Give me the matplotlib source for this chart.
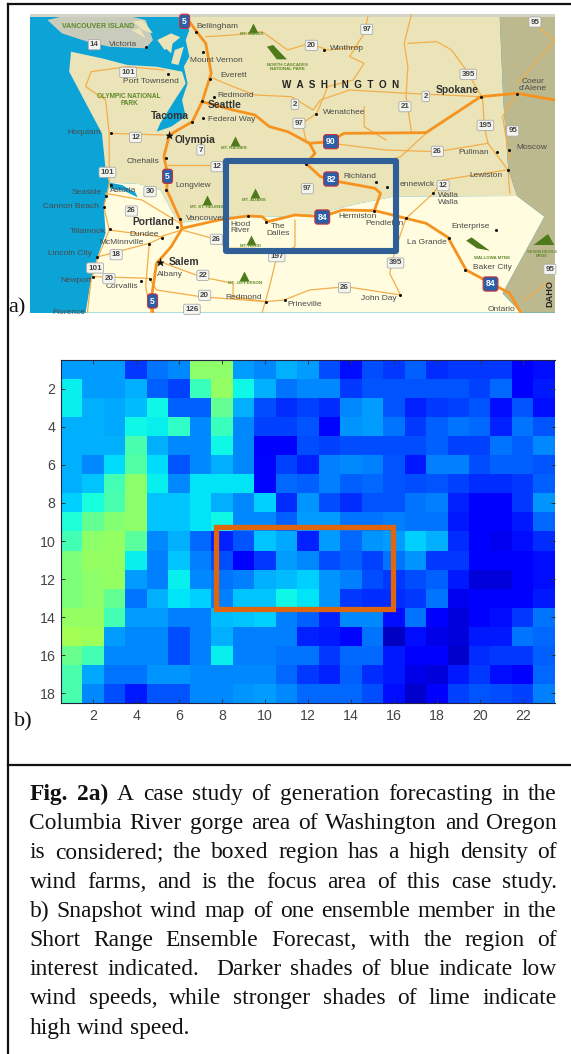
import numpy as np
import matplotlib
matplotlib.use("Agg")
import matplotlib.pyplot as plt
from matplotlib.lines import Line2D
from matplotlib.patches import Polygon, Rectangle

W, H = 571, 1054
plt.rcParams['font.family'] = ['Liberation Sans', 'DejaVu Sans']

# ---------- heat-map values (rows 1-18, columns 1-23) ----------
wind = np.array([
 [28,28,28,18,24,26,52,52,28,26,30,28,20,14,20,18,22,17,18,18,18,11,14],
 [36,28,28,30,22,19,42,53,37,30,24,26,26,18,21,21,21,21,21,19,23,11,15],
 [36,30,29,31,37,22,22,47,30,20,17,19,17,26,28,21,16,18,19,21,14,21,14],
 [30,30,29,37,36,41,26,42,26,19,19,21,13,27,28,24,18,22,24,23,16,24,21],
 [30,30,30,44,30,26,26,37,26,11,12,20,19,20,20,20,20,22,19,19,24,22,26],
 [30,26,34,45,34,21,26,30,26,13,19,16,25,26,25,21,15,25,25,20,22,22,21],
 [30,32,43,52,36,26,35,35,35,13,23,22,25,22,23,21,20,21,19,17,17,18,22],
 [33,38,44,52,32,32,35,30,26,33,17,27,20,17,21,21,24,25,16,11,11,18,27],
 [39,47,51,52,32,32,35,37,26,26,22,28,28,24,24,25,24,24,15,11,11,15,23],
 [43,52,53,46,26,30,23,16,21,32,29,16,28,23,27,28,33,30,17,12,10,14,17],
 [50,53,53,36,25,32,25,20,12,18,28,26,20,22,19,24,27,18,18,12,12,12,14],
 [50,52,53,28,25,36,26,24,25,30,31,33,27,25,20,18,20,22,15, 8, 8,12,14],
 [50,52,47,24,30,35,33,25,32,32,37,35,27,18,17,17,18,24,10,11,11,11,15],
 [53,53,43,28,28,25,25,31,32,33,25,22,16,26,26,14,24,12, 8,12,14,18,24],
 [55,54,28,26,26,20,25,30,25,25,25,16,15,13,24, 6,14, 9, 8,15,15,24,23],
 [48,43,26,26,26,20,25,36,25,25,24,24,18,23,23,15,12,11, 7,17,18,18,22],
 [44,29,24,24,27,27,26,26,26,26,23,18,16,22,17,15, 9, 8,15,18,14,11,23],
 [44,26,20,15,21,21,26,26,27,28,26,23,23,23,20,14, 7,11,19,21,20,19,25],
])
x_ticks = [2,4,6,8,10,12,14,16,18,20,22]
y_ticks = [2,4,6,8,10,12,14,16,18]
focus_cols = (7.7, 15.97)
focus_rows = (9.25, 13.58)

# ---------- map content (coordinates on a 1568 x 3162 sketch grid) ----------
ocean_c, wa_c, or_c, id_c, bc_c = '#0CA3D6', '#EAE4B8', '#FFFCE0', '#BDB98F', '#C9CBBB'
road_c, thin_c = '#F6921E', '#F3AE4A'

washington = [(505,42),(1372,42),(1382,300),(1396,510),(1420,588),(1080,590),(980,612),(880,640),(790,650),
              (620,650),(500,668),(480,650),(440,570),(380,552),(300,548),(290,510),(280,400),(236,310),
              (190,215),(195,155),(280,175),(350,195),(430,200),(500,215),(510,250),(480,300),(440,370),(430,395),
              (470,380),(510,350),(500,300),(515,250),(505,200),(520,170),(510,120),(520,90),(490,50)]
oregon = [(300,548),(380,552),(440,570),(480,650),(500,668),(620,650),(790,650),(880,640),(980,612),(1080,590),
          (1420,588),(1495,650),(1440,760),(1380,880),(1430,938),(235,938),(250,840),(265,780),(290,700),(285,620)]
idaho = [(1372,42),(1524,42),(1524,938),(1430,938),(1380,880),(1440,760),(1495,650),(1420,588),(1396,510),(1382,300)]
van_island = [(130,60),(200,42),(330,42),(400,60),(420,120),(400,145),(300,140),(240,125),(170,100)]
islands = [[(432,120),(470,100),(495,112),(452,150)],[(365,65),(392,60),(420,100),(395,92)],
           [(480,150),(505,140),(490,195),(470,190)],[(440,130),(475,120),(470,160)],[(360,90),(385,85),(400,115)]]
columbia_mouth = [(300,548),(335,555),(372,578),(378,592),(340,572),(302,566)]

interstates = [
 [(510,50),(540,95),(565,130),(580,220),(555,305),(528,365),(465,405),(450,470),(460,520),(458,570),(495,660),(500,685),(470,740),(430,790),(415,900),(420,938)],
 [(555,305),(640,330),(700,345),(740,380),(790,395),(850,430),(905,425),(945,400),(1170,398),(1320,290),(1420,280),(1524,300)],
 [(850,430),(865,460),(840,490),(880,530),(930,545),(1030,565),(1045,580),(1028,632)],
 [(500,685),(600,660),(680,648),(720,650),(735,665),(810,645),(885,650),(940,630),(1030,632),(1115,655),(1170,670),(1230,712),(1280,810),(1340,845),(1400,880),(1430,938)],
]
minor_roads = [
 [(575,230),(640,260),(700,285),(800,290),(860,330),(880,300),(960,270),(1120,280),(1320,290)],
 [(565,110),(640,105),(720,95),(790,150),(850,130),(900,150),(990,140)],
 [(1010,50),(1000,100),(960,170),(1000,190),(970,240),(900,260),(870,340),(830,370),(840,420)],
 [(1130,42),(1110,130),(1120,200),(1115,290),(1130,395)],
 [(1120,130),(1200,125),(1240,150),(1280,210),(1320,285)],
 [(1325,290),(1330,380),(1340,430),(1395,510),(1400,580)],
 [(910,430),(1060,450),(1200,455),(1340,430)],
 [(1170,400),(1100,470),(1070,480)],
 [(450,210),(350,200),(250,215),(235,260),(290,300),(300,400),(450,405)],
 [(300,400),(300,510),(300,555),(285,620),(300,690),(270,770),(250,840),(240,938)],
 [(460,495),(590,495),(620,495)],
 [(290,580),(390,600),(495,670)],
 [(300,690),(440,710),(500,690)],
 [(270,770),(410,730),(450,710)],
 [(440,785),(550,830),(640,850),(640,890),(730,905),(780,900),(850,870),(950,860),(1100,885),(1070,820),(1085,750),(1115,655)],
 [(260,830),(410,835),(430,870),(550,890),(730,905)],
 [(810,660),(810,740),(760,770),(740,860),(720,938)],
 [(1115,655),(1190,580),(1215,540),(1390,510)],
 [(1000,320),(1000,380),(1060,420)],
 [(1420,280),(1380,350),(1400,480)],
 [(1450,60),(1524,120),(1420,250)],
 [(1440,900),(1500,850)],
 [(500,690),(600,720),(620,745),(700,745)],
 [(410,730),(400,860),(415,938)],
]
regular_labels = [('Bellingham',540,80),('Victoria',298,134),('Mount Vernon',522,180),('Winthrop',907,146),
 ('Everett',606,227),('Port Townsend',339,244),('Redmond',598,286),('Federal Way',571,358),('Wenatchee',888,339),
 ('Hoquiam',186,399),('Chehalis',348,484),('Longview',482,556),('Pullman',1259,458),('Moscow',1417,442),
 ('Lewiston',1288,526),('Richland',942,528),('ennewick',1098,554),('Walla',1204,587),('Walla',1204,608),
 ('Seaside',198,578),('Astoria',303,573),('Cannon Beach',118,620),('Vancouver',510,655),('Tillamook',192,694),
 ('Dundee',356,703),('McMinnville',274,726),('Lincoln City',132,760),('Newport',165,840),('Albany',430,825),
 ('Corvallis',290,860),('Hermiston',930,649),('Pendleton',1003,671),('Hood',632,672),('River',632,693),
 ('The',745,679),('Dalles',732,700),('La Grande',1119,727),('Enterprise',1240,680),('Baker City',1298,803),
 ('Redmond',620,893),('Prineville',790,914),('John Day',990,897),('Ontario',1340,929),('Florence',145,938),
 ('Coeur',1432,244),("d'Alene",1424,265)]
big_labels = [('Seattle',571,316),('Tacoma',413,349),('Olympia',480,420),('Spokane',1197,270),('Portland',364,667),('Salem',464,786)]
green_labels = [('VANCOUVER ISLAND',171,78,5.0),('OLYMPIC NATIONAL',266,291,4.7),('PARK',330,310,4.7),
 ('MT. BAKER',660,101,3.2),('NORTH CASCADES',733,194,3.2),('NATIONAL PARK',741,207,3.2),('MT. RAINIER',607,445,3.2),
 ('MT. ADAMS',664,601,3.2),('MT. ST. HELENS',522,622,3.2),('MT. HOOD',659,737,3.2),('MT. JEFFERSON',625,848,3.2),
 ('WALLOWA MTNS',1303,774,3.2),('SEVEN DEVILS',1447,756,3.0),('MTNS',1472,769,3.0)]
peaks = [(695,84),(646,424),(699,579),(568,600),(690,720),(670,829)]
ranges = [[(733,140),(750,135),(788,178),(760,178)],[(1280,722),(1295,712),(1345,752),(1310,745)],[(1465,735),(1505,702),(1522,735)]]
cities = [(539,95),(558,157),(578,237),(587,292),(555,304),(558,355),(528,365),(400,141),(462,221),(891,150),(869,341),
 (304,399),(455,474),(456,570),(304,556),(292,587),(285,621),(495,657),(485,680),(301,686),(445,713),(408,733),(267,770),
 (256,830),(388,844),(413,838),(1322,290),(1420,283),(1365,455),(1398,451),(1394,511),(1190,580),(1033,545),(1063,561),
 (1028,634),(682,649),(731,665),(1116,655),(1232,713),(1277,811),(1361,691),(1098,884),(782,901),(730,907),(840,491)]
stars = [(465,405),(440,785)]
us_shields = [('14',259,134),('101',352,217),('20',855,136),('97',1007,88),('395',1286,223),('2',810,313),('21',1112,320),
 ('97',821,370),('2',1169,289),('195',1333,376),('95',1408,393),('26',1201,454),('12',372,412),('7',551,450),('12',596,500),
 ('101',295,517),('30',412,575),('97',844,566),('12',1217,557),('26',361,633),('26',594,718),('18',319,764),('197',760,770),
 ('395',1086,789),('101',261,804),('20',299,836),('22',557,826),('20',562,886),('26',946,863),('126',527,928),('95',1469,66),('95',1510,808)]
i_shields = [('5',507,64),('90',909,425),('82',909,537),('5',460,529),('84',885,651),('84',1347,852),('5',419,903)]
state_label = 'WASHINGTON'
focus_map_x = (620, 1087)
focus_map_y = (483, 752)

caption = ["Fig. 2a) A case study of generation forecasting in the",
           "Columbia River gorge area of Washington and Oregon",
           "is considered; the boxed region has a high density of",
           "wind farms, and is the focus area of this case study.",
           "b) Snapshot wind map of one ensemble member in the",
           "Short Range Ensemble Forecast, with the region of",
           "interest indicated.  Darker shades of blue indicate low",
           "wind speeds, while stronger shades of lime indicate",
           "high wind speed."]

# ---------- figure ----------
fig = plt.figure(figsize=(W/100, H/100), dpi=100, facecolor='white')

m = fig.add_axes([0, 0, 1, 1])
m.set_xlim(0, 1568); m.set_ylim(3162, 0); m.axis('off')
clip = Rectangle((82, 42), 1442, 896, transform=m.transData)

def cl(a):
    a.set_clip_path(clip)
    return a

cl(m.add_patch(Rectangle((82, 42), 1442, 896, fc=ocean_c, ec='none', zorder=1)))
for poly, c in ((van_island, bc_c), (washington, wa_c), (oregon, or_c), (idaho, id_c)):
    cl(m.add_patch(Polygon(poly, closed=True, fc=c, ec='none', zorder=2)))
for poly in islands:
    cl(m.add_patch(Polygon(poly, closed=True, fc=wa_c, ec='none', zorder=2)))
cl(m.add_patch(Polygon(columbia_mouth, closed=True, fc=ocean_c, ec='none', zorder=2)))
cl(m.add_patch(Rectangle((82, 42), 1442, 8, fc='#D4D4C6', ec='none', zorder=2)))
for r in minor_roads:
    xs, ys = zip(*r)
    cl(m.plot(xs, ys, color=thin_c, lw=0.9, zorder=3)[0])
for r in interstates:
    xs, ys = zip(*r)
    cl(m.plot(xs, ys, color=road_c, lw=2.0, zorder=4, solid_joinstyle='round')[0])
xs, ys = zip(*cities)
cl(m.plot(xs, ys, ls='none', marker='o', ms=2.2, color='#111111', mec='none', zorder=5)[0])
xs, ys = zip(*stars)
cl(m.plot(xs, ys, ls='none', marker='*', ms=6.5, color='#111111', mec='none', zorder=5)[0])
xs, ys = zip(*peaks)
cl(m.plot(xs, ys, ls='none', marker='^', ms=7, color='#4F7A1C', mec='none', zorder=5)[0])
for poly in ranges:
    cl(m.add_patch(Polygon(poly, closed=True, fc='#4F7A1C', ec='none', zorder=5)))
for t, x, y in regular_labels:
    cl(m.text(x, y, t, fontsize=6.0, color='#4A4A48', va='center', ha='left', zorder=6))
for t, x, y in big_labels:
    cl(m.text(x, y, t, fontsize=7.4, color='#333333', va='center', ha='left', weight='bold', zorder=6))
for t, x, y, s in green_labels:
    cl(m.text(x, y, t, fontsize=s, color='#5F8A2A', va='center', ha='left', weight='bold', zorder=6))
for t, x, y in us_shields:
    cl(m.text(x, y, t, fontsize=5.8, color='#444444', va='center', ha='center', weight='bold', zorder=7,
              bbox=dict(boxstyle='round,pad=0.2', fc='#F5F5F0', ec='#AAAAAA', lw=0.6)))
for t, x, y in i_shields:
    cl(m.text(x, y, t, fontsize=6.2, color='white', va='center', ha='center', weight='bold', zorder=7,
              bbox=dict(boxstyle='round,pad=0.3', fc='#2A5FA8', ec='#C8303A', lw=0.8)))
cl(m.text(775, 255, '  '.join(state_label), fontsize=7.1, color='#222222', va='center', ha='left', weight='bold', zorder=6))
cl(m.text(1510, 880, 'DAHO', fontsize=6.6, color='#222222', rotation=90, va='center', ha='center', weight='bold', zorder=6))
m.add_patch(Rectangle((focus_map_x[0], focus_map_y[0]), focus_map_x[1]-focus_map_x[0], focus_map_y[1]-focus_map_y[0],
                      fc='none', ec='#2F5F96', lw=4.4, zorder=8, joinstyle='round'))

# ---------- heat map ----------
L, R, T, B = 61, 555, 360, 703
ax = fig.add_axes([L/W, 1-B/H, (R-L)/W, (B-T)/H], zorder=3)
ax.imshow(wind, cmap='jet', vmin=0, vmax=100, aspect='auto', interpolation='nearest',
          extent=(0.5, 23.5, 18.5, 0.5))
ax.set_xticks(x_ticks); ax.set_yticks(y_ticks)
ax.tick_params(direction='in', length=3, width=0.7, colors='#333333', labelsize=10.2,
               top=True, right=True, labelcolor='#444444')
ax.tick_params(axis='x', pad=4)
ax.tick_params(axis='y', pad=4)
for side in ('left', 'bottom', 'top'):
    ax.spines[side].set_linewidth(0.8); ax.spines[side].set_color('#222244')
ax.spines['right'].set_visible(False)
ax.add_patch(Rectangle((focus_cols[0], focus_rows[0]), focus_cols[1]-focus_cols[0], focus_rows[1]-focus_rows[0],
                       fc='none', ec='#E0650F', lw=3.8, joinstyle='miter'))

# ---------- frame and panel letters ----------
for x0, y0, x1, y1 in ((8, 4, 8, H), (8, 4, W, 4), (8, 765, W, 765)):
    fig.add_artist(Line2D([x0/W, x1/W], [1-y0/H, 1-y1/H], color='#111111', lw=1.6, transform=fig.transFigure))
fig.text(8/W, 1-312/H, 'a)', family='Liberation Serif', fontsize=16, color='#111111', va='baseline', zorder=9)
fig.text(14/W, 1-726/H, 'b)', family='Liberation Serif', fontsize=16, color='#111111', va='baseline', zorder=9)

# ---------- justified caption ----------
fig.canvas.draw()
rend = fig.canvas.get_renderer()
x_left, x_right = 29.5, 557
first_base, line_step = 800, 29.2
cap_size = 16.9

def word_width(t, weight):
    tmp = fig.text(0, 0, t, family='Liberation Serif', fontsize=cap_size, weight=weight)
    w = tmp.get_window_extent(rend).width
    tmp.remove()
    return w

for i, line in enumerate(caption):
    words = line.split(' ')
    weights = ['bold' if (i == 0 and j < 2) else 'normal' for j in range(len(words))]
    widths = [word_width(t, wt) if t else 0 for t, wt in zip(words, weights)]
    if i == len(caption) - 1:
        gap = cap_size * 100/72 * 0.25
    else:
        gap = (x_right - x_left - sum(widths)) / (len(words) - 1)
    x = x_left
    for t, wt, w in zip(words, weights, widths):
        if t:
            fig.text(x/W, 1-(first_base + i*line_step)/H, t, family='Liberation Serif', fontsize=cap_size,
                     weight=wt, color='#111111', va='baseline', ha='left')
        x += w + gap

fig.savefig('out.png', dpi=100, facecolor='white')
